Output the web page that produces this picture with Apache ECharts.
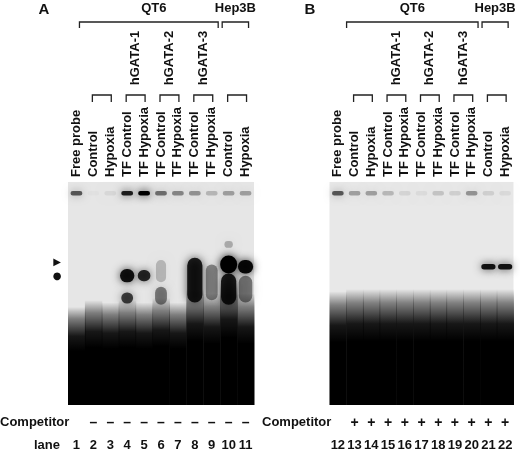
<!DOCTYPE html>
<html><head><meta charset="utf-8">
<script src="https://cdn.jsdelivr.net/npm/echarts@6/dist/echarts.min.js"></script>
<style>body{margin:0;background:#fff}#c{width:520px;height:453px}</style></head>
<body><div id="c"></div>
<script>
const laneNamesA = ["Free probe","Control","Hypoxia","TF Control","TF Hypoxia","TF Control","TF Hypoxia","TF Control","TF Hypoxia","Control","Hypoxia"];
const laneNamesB = laneNamesA.slice();
const laneNumsA = ["1","2","3","4","5","6","7","8","9","10","11"];
const laneNumsB = ["12","13","14","15","16","17","18","19","20","21","22"];
const competitorA = ["","–","–","–","–","–","–","–","–","–","–"];
const competitorB = ["","+","+","+","+","+","+","+","+","+","+"];
// smear top (relative migration, 0 = bottom, 100 = top of gel)
const smearTopA = [44,47,46,47,46,48,46,52,50,55,50];
const smearTopB = [51,52,52,52,52,52,52,52,52,52,52];
// well signal intensity per lane
const wellA = [0.6,0.02,0.06,0.85,1,0.5,0.4,0.35,0.2,0.3,0.3];
const wellB = [0.6,0.3,0.3,0.2,0.08,0.05,0.15,0.1,0.35,0.1,0.06];
// complexes: [lane, position, thickness, intensity, widthFraction]
const bandsA = [[3,58,6,0.9,0.85],[3,48,5,0.7,0.7],[4,58,5,0.8,0.75],[5,60,10,0.2,0.6],[5,49,8,0.45,0.7],
  [7,56,20,0.85,0.9],[8,55,16,0.4,0.7],[9,63,8,1,1.0],[9,72,3,0.25,0.5],[9,52,14,0.85,0.9],[10,62,6,0.95,0.9],[10,52,12,0.45,0.8]];
const bandsB = [[9,62,2.5,0.9,0.85],[10,62,2.5,0.9,0.85]];

function wells(w){return w.map((v,i)=>[i,95,2,v,0.7]);}
function smearSeries(tops,gi){
  return {type:'custom',xAxisIndex:gi*3,yAxisIndex:gi,data:tops.map((t,i)=>[i,t]),
    renderItem:(p,api)=>{const a=api.coord([api.value(0),api.value(1)]),b=api.coord([api.value(0),0]);const w=api.size([1,0])[0];
      return {type:'rect',shape:{x:a[0]-w*0.5,y:a[1],width:w+0.5,height:b[1]-a[1]},
        style:{fill:new echarts.graphic.LinearGradient(0,0,0,1,[{offset:0,color:'rgba(0,0,0,0)'},{offset:0.12,color:'rgba(0,0,0,0.45)'},{offset:0.3,color:'rgba(0,0,0,0.9)'},{offset:0.45,color:'#000'},{offset:1,color:'#000'}])}};},z:2};
}
function bandSeries(d,gi){
  return {type:'custom',xAxisIndex:gi*3,yAxisIndex:gi,data:d,
    renderItem:(p,api)=>{const c=api.coord([api.value(0),api.value(1)]);const w=api.size([1,0])[0]*api.value(4);const h=api.size([0,api.value(2)])[1];
      return {type:'rect',shape:{x:c[0]-w/2,y:c[1]-h/2,width:w,height:h,r:Math.min(h,w)/2},
        style:{fill:'rgba(0,0,0,'+api.value(3)+')',shadowBlur:9,shadowColor:'rgba(0,0,0,'+api.value(3)*0.9+')'}};},z:3};
}
const lbl={fontFamily:'Liberation Sans',fontWeight:'bold',fontSize:13,color:'#111'};
function xaxes(gi,names,nums,comp){
  return [
    {gridIndex:gi,type:'category',data:names,position:'top',axisLine:{show:false},axisTick:{show:false},splitLine:{show:false},axisLabel:Object.assign({rotate:90,margin:5,interval:0},lbl)},
    {gridIndex:gi,type:'category',data:nums,position:'bottom',axisLine:{show:false},axisTick:{show:false},axisLabel:Object.assign({margin:34,interval:0},lbl)},
    {gridIndex:gi,type:'category',data:comp,position:'bottom',offset:0,axisLine:{show:false},axisTick:{show:false},axisLabel:Object.assign({margin:11,interval:0},lbl,{fontSize:14})}
  ];
}
const chart=echarts.init(document.getElementById('c'));
chart.setOption({
  animation:false,
  grid:[{left:68,width:186,top:182,height:223,show:true,backgroundColor:'#e6e6e6',borderWidth:0},
        {left:329.5,width:184,top:182,height:223,show:true,backgroundColor:'#e8e8e8',borderWidth:0}],
  xAxis:[...xaxes(0,laneNamesA,laneNumsA,competitorA),...xaxes(1,laneNamesB,laneNumsB,competitorB)],
  yAxis:[{gridIndex:0,min:0,max:100,show:false},{gridIndex:1,min:0,max:100,show:false}],
  series:[smearSeries(smearTopA,0),bandSeries(wells(wellA).concat(bandsA),0),smearSeries(smearTopB,1),bandSeries(wells(wellB).concat(bandsB),1)]
});
function px(gi,lane){return chart.convertToPixel({xAxisIndex:gi*3},lane);}
const g=[];const ls={stroke:'#222',lineWidth:1.3,fill:null};
function bracket(x1,x2,y,d){g.push({type:'polyline',shape:{points:[[x1,y+d],[x1,y],[x2,y],[x2,y+d]]},style:ls});}
function txt(x,y,s,opt){g.push({type:'text',x:x,y:y,style:Object.assign({text:s,font:'bold 13px "Liberation Sans"',fill:'#111',align:'center',verticalAlign:'middle'},opt||{})});}
[0,1].forEach(gi=>{
  const xq1=px(gi,gi?1:0)-(gi?8:-3), xq2=(px(gi,8)+px(gi,9))/2-2, xh1=xq2+4, xh2=px(gi,10)+3;
  bracket(xq1,xq2,22,6);bracket(xh1,xh2,22,6);
  txt((xq1+xq2)/2+(gi?0:5),8,'QT6');txt((xh1+xh2)/2,8,'Hep3B');
  for(let k=0;k<5;k++){const a=px(gi,1+2*k)-1,b=px(gi,2+2*k)+1;bracket(a,b,95,7);}
  ['hGATA-1','hGATA-2','hGATA-3'].forEach((s,k)=>{const x=(px(gi,3+2*k)+px(gi,4+2*k))/2;
    g.push({type:'text',x:x,y:58,rotation:Math.PI/2,style:{text:s,font:'bold 13px "Liberation Sans"',fill:'#111',align:'center',verticalAlign:'middle'}});});
});
txt(44,10,'A',{font:'bold 15px "Liberation Sans"'});txt(310,10,'B',{font:'bold 15px "Liberation Sans"'});
txt(0,422,'Competitor',{align:'left'});txt(60,445,'lane',{align:'right'});txt(262,422,'Competitor',{align:'left'});
txt(57,262,'▶',{font:'10px "DejaVu Sans"'});txt(57,276,'●',{font:'10px "DejaVu Sans"'});
chart.setOption({graphic:g});
</script></body></html>
